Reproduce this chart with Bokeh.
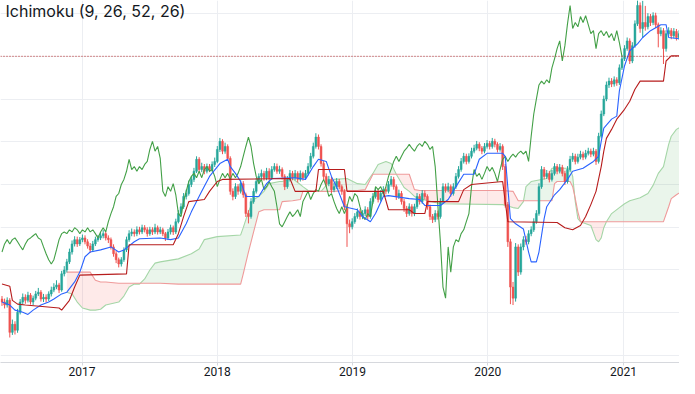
import numpy as np
from bokeh.plotting import figure
from bokeh.models import FixedTicker, Span, Label, Range1d, DatetimeTickFormatter, ColumnDataSource
from bokeh.embed import file_html
from bokeh.resources import INLINE

# ---------------- data (weekly bars, first bar = week of 2016-05-30) ----------------
first_week = "2016-05-30"

opens = [33.2, 32.5, 31.8, 32.9, 25.4, 27.3, 25.9, 30.1, 32.5, 33.6,
         32.9, 34.1, 32.5, 33.4, 34.4, 34.8, 33.2, 33.6, 33.2, 34.4,
         35.3, 36.0, 36.5, 35.3, 39.1, 40.0, 41.9, 44.2, 46.1, 47.1,
         46.1, 47.1, 47.5, 46.6, 45.6, 44.7, 46.1, 47.1, 47.5, 48.0,
         48.5, 47.5, 47.1, 45.4, 43.8, 42.4, 41.4, 42.4, 44.7, 47.1,
         48.5, 48.9, 48.5, 49.4, 48.9, 49.9, 49.4, 48.5, 49.4, 48.9,
         49.9, 48.9, 49.4, 48.5, 47.5, 48.9, 49.9, 48.9, 51.3, 53.2,
         54.8, 57.2, 57.9, 60.0, 61.2, 63.1, 65.9, 63.5, 64.2, 63.1,
         64.2, 63.5, 64.7, 65.4, 68.2, 70.1, 67.8, 68.9, 66.1, 58.4,
         57.2, 59.5, 58.4, 60.2, 57.6, 53.2, 52.5, 56.0, 58.4, 60.7,
         61.9, 62.6, 61.6, 63.1, 61.6, 63.5, 64.2, 63.1, 63.5, 61.9,
         59.5, 61.2, 62.6, 61.6, 62.6, 61.2, 62.6, 61.6, 62.6, 64.2,
         66.6, 68.9, 71.1, 68.9, 64.9, 61.9, 60.2, 61.2, 58.8, 59.5,
         60.7, 59.5, 58.4, 54.8, 50.8, 50.1, 51.3, 52.5, 53.6, 52.5,
         53.2, 54.1, 52.5, 56.0, 57.2, 58.4, 56.5, 57.9, 58.8, 58.4,
         60.0, 61.2, 59.5, 57.2, 57.9, 56.0, 54.4, 53.2, 54.8, 53.2,
         54.8, 57.2, 56.0, 57.9, 57.2, 54.8, 52.5, 51.8, 53.2, 52.5,
         56.0, 59.5, 58.8, 59.5, 57.9, 59.5, 61.9, 63.5, 65.4, 66.6,
         65.4, 66.6, 67.8, 68.5, 69.4, 68.5, 67.8, 68.9, 69.6, 68.9,
         70.1, 69.4, 68.2, 68.9, 64.2, 55.3, 46.6, 36.0, 33.4, 45.4,
         39.5, 45.4, 47.1, 46.6, 48.5, 49.4, 51.3, 53.2, 59.5, 63.5,
         61.9, 62.6, 61.2, 62.6, 64.2, 63.1, 64.0, 62.6, 60.7, 63.5,
         65.9, 66.6, 65.4, 66.4, 67.1, 66.4, 67.3, 67.8, 67.1, 67.8,
         65.4, 71.3, 76.5, 80.0, 83.3, 84.2, 83.5, 84.5, 83.8, 87.3,
         89.4, 91.8, 93.6, 88.9, 92.5, 97.6, 101.9, 96.5, 97.9, 96.9,
         99.3, 97.9, 99.5, 97.4, 95.3, 96.0, 91.8, 95.3, 96.0, 94.8,
         95.8, 94.4, 95.3, 93.6, 96.0, 93.2]
closes = [32.5, 31.8, 32.9, 25.4, 27.3, 25.9, 30.1, 32.5, 33.6, 32.9,
          34.1, 32.5, 33.4, 34.4, 34.8, 33.2, 33.6, 33.2, 34.4, 35.3,
          36.0, 36.5, 35.3, 39.1, 40.0, 41.9, 44.2, 46.1, 47.1, 46.1,
          47.1, 47.5, 46.6, 45.6, 44.7, 46.1, 47.1, 47.5, 48.0, 48.5,
          47.5, 47.1, 45.4, 43.8, 42.4, 41.4, 42.4, 44.7, 47.1, 48.5,
          48.9, 48.5, 49.4, 48.9, 49.9, 49.4, 48.5, 49.4, 48.9, 49.9,
          48.9, 49.4, 48.5, 47.5, 48.9, 49.9, 48.9, 51.3, 53.2, 54.8,
          57.2, 57.9, 60.0, 61.2, 63.1, 65.9, 63.5, 64.2, 63.1, 64.2,
          63.5, 64.7, 65.4, 68.2, 70.1, 67.8, 68.9, 66.1, 58.4, 57.2,
          59.5, 58.4, 60.2, 57.6, 53.2, 52.5, 56.0, 58.4, 60.7, 61.9,
          62.6, 61.6, 63.1, 61.6, 63.5, 64.2, 63.1, 63.5, 61.9, 59.5,
          61.2, 62.6, 61.6, 62.6, 61.2, 62.6, 61.6, 62.6, 64.2, 66.6,
          68.9, 71.1, 68.9, 64.9, 61.9, 60.2, 61.2, 58.8, 59.5, 60.7,
          59.5, 58.4, 54.8, 50.8, 50.1, 51.3, 52.5, 53.6, 52.5, 53.2,
          54.1, 52.5, 56.0, 57.2, 58.4, 56.5, 57.9, 58.8, 58.4, 60.0,
          61.2, 59.5, 57.2, 57.9, 56.0, 54.4, 53.2, 54.8, 53.2, 54.8,
          57.2, 56.0, 57.9, 57.2, 54.8, 52.5, 51.8, 53.2, 52.5, 56.0,
          59.5, 58.8, 59.5, 57.9, 59.5, 61.9, 63.5, 65.4, 66.6, 65.4,
          66.6, 67.8, 68.5, 69.4, 68.5, 67.8, 68.9, 69.6, 68.9, 70.1,
          69.4, 68.2, 68.9, 64.2, 55.3, 46.6, 36.0, 33.4, 45.4, 39.5,
          45.4, 47.1, 46.6, 48.5, 49.4, 51.3, 53.2, 59.5, 63.5, 61.9,
          62.6, 61.2, 62.6, 64.2, 63.1, 64.0, 62.6, 60.7, 63.5, 65.9,
          66.6, 65.4, 66.4, 67.1, 66.4, 67.3, 67.8, 67.1, 67.8, 65.4,
          71.3, 76.5, 80.0, 83.3, 84.2, 83.5, 84.5, 83.8, 87.3, 89.4,
          91.8, 93.6, 88.9, 92.5, 97.6, 101.9, 96.5, 97.9, 96.9, 99.3,
          97.9, 99.5, 97.4, 95.3, 96.0, 91.8, 95.3, 96.0, 94.8, 95.8,
          94.4, 95.3, 93.6, 96.0, 93.2, 90.0]
highs = [33.9, 33.3, 33.6, 33.4, 28.4, 28.0, 30.9, 33.2, 34.5, 34.3,
         34.9, 34.6, 34.0, 35.1, 35.8, 35.3, 34.4, 34.3, 35.0, 36.1,
         36.9, 37.6, 37.0, 39.8, 40.9, 42.6, 45.0, 46.9, 47.9, 47.8,
         47.7, 48.3, 48.1, 47.2, 46.3, 46.8, 47.8, 48.2, 48.9, 49.4,
         49.0, 48.1, 47.6, 46.0, 44.4, 42.9, 43.0, 45.3, 47.8, 49.3,
         49.7, 49.5, 50.2, 50.1, 50.6, 50.5, 50.0, 50.1, 50.0, 50.8,
         50.4, 50.1, 49.9, 48.9, 49.6, 50.6, 50.4, 52.0, 54.0, 55.6,
         58.0, 58.8, 60.9, 62.0, 63.9, 66.6, 66.4, 65.1, 64.8, 64.9,
         64.8, 65.4, 66.3, 69.0, 70.9, 70.6, 69.8, 69.4, 66.6, 59.1,
         60.3, 60.1, 61.0, 60.8, 58.1, 54.0, 56.8, 59.1, 61.5, 62.6,
         63.5, 63.2, 63.9, 63.8, 64.3, 65.0, 64.9, 64.4, 64.0, 62.4,
         62.0, 63.4, 63.2, 63.4, 63.1, 63.3, 63.0, 63.4, 65.0, 67.4,
         69.8, 72.0, 71.7, 69.4, 65.5, 62.6, 62.0, 61.8, 60.4, 61.5,
         61.3, 60.0, 58.9, 55.4, 51.8, 52.1, 53.3, 54.4, 54.2, 54.0,
         54.9, 54.7, 56.8, 58.0, 59.2, 58.9, 58.7, 59.6, 59.5, 60.8,
         62.0, 61.8, 60.0, 58.8, 58.5, 56.6, 55.0, 55.6, 55.4, 55.5,
         58.0, 57.8, 58.7, 58.6, 57.7, 55.3, 53.1, 54.0, 53.9, 56.8,
         60.3, 60.2, 60.4, 60.0, 60.3, 62.7, 64.3, 66.2, 67.4, 67.2,
         67.3, 68.6, 69.3, 70.2, 69.9, 69.0, 69.7, 70.4, 70.2, 70.9,
         70.7, 69.9, 69.7, 69.4, 64.8, 55.9, 47.3, 37.2, 46.3, 46.0,
         46.2, 47.9, 48.0, 49.3, 50.2, 52.1, 54.0, 60.3, 64.3, 64.1,
         63.4, 63.2, 63.4, 65.0, 64.8, 64.8, 64.6, 63.2, 64.3, 66.7,
         67.4, 67.2, 67.2, 67.9, 67.7, 68.1, 68.6, 68.4, 68.6, 68.3,
         72.1, 77.3, 80.8, 84.1, 85.0, 84.9, 85.3, 85.1, 88.1, 90.2,
         92.6, 94.4, 94.2, 93.3, 98.4, 103.1, 102.6, 103.0, 101.8, 100.1,
         99.9, 100.3, 100.2, 97.9, 96.8, 96.6, 96.1, 96.8, 96.6, 96.6,
         96.4, 96.1, 95.9, 96.8, 96.6, 93.8]
lows = [31.6, 31.0, 31.2, 24.2, 24.8, 24.9, 25.3, 29.6, 31.9, 32.1,
        32.4, 31.9, 31.8, 32.9, 33.9, 32.6, 32.5, 32.4, 32.7, 33.8,
        34.8, 35.5, 34.6, 34.9, 38.5, 39.4, 41.4, 43.6, 45.5, 45.4,
        45.6, 46.5, 46.0, 45.0, 44.0, 44.2, 45.6, 46.6, 47.0, 47.4,
        46.9, 46.3, 44.8, 43.1, 41.6, 40.6, 40.8, 41.9, 44.2, 46.6,
        47.9, 47.8, 47.9, 48.3, 48.4, 48.8, 47.8, 48.0, 48.2, 48.4,
        48.3, 48.4, 47.9, 46.8, 47.0, 48.3, 48.2, 48.4, 50.9, 52.6,
        54.3, 56.5, 57.4, 59.4, 60.6, 62.7, 62.8, 62.9, 62.4, 62.6,
        62.9, 63.0, 64.1, 65.0, 67.6, 67.1, 67.2, 65.5, 57.6, 56.3,
        56.6, 57.6, 57.9, 56.9, 52.4, 50.9, 52.0, 55.5, 57.9, 60.1,
        61.3, 60.9, 61.0, 60.9, 61.1, 63.0, 62.5, 62.5, 61.2, 58.7,
        59.0, 60.7, 61.0, 61.0, 60.5, 60.7, 60.9, 61.1, 62.1, 63.7,
        66.1, 68.4, 68.2, 64.2, 61.1, 59.5, 59.6, 58.0, 58.2, 59.0,
        58.9, 57.6, 54.0, 45.4, 48.6, 49.5, 50.8, 52.0, 51.8, 51.9,
        52.6, 51.8, 52.0, 55.5, 56.7, 55.8, 56.0, 57.3, 57.7, 57.9,
        59.5, 58.8, 56.4, 56.6, 55.3, 53.6, 52.4, 52.7, 52.5, 52.6,
        54.3, 55.3, 55.5, 56.5, 54.1, 51.7, 51.0, 51.2, 51.8, 52.0,
        55.5, 58.1, 58.2, 57.1, 57.4, 59.0, 61.4, 63.0, 64.9, 64.7,
        64.9, 66.1, 67.3, 68.0, 67.8, 67.1, 67.3, 68.4, 68.2, 68.4,
        68.7, 67.5, 67.7, 63.4, 54.6, 45.4, 32.0, 31.8, 32.6, 38.6,
        38.9, 44.6, 45.9, 46.0, 47.9, 48.9, 50.8, 52.7, 59.0, 61.2,
        61.3, 60.5, 60.7, 62.1, 62.4, 62.6, 61.9, 59.9, 60.2, 63.0,
        65.3, 64.7, 64.9, 65.9, 65.7, 65.9, 66.8, 66.4, 66.6, 64.6,
        64.9, 70.8, 76.0, 79.5, 82.6, 82.8, 82.9, 83.1, 83.3, 86.8,
        88.9, 91.3, 88.2, 88.4, 92.0, 97.1, 95.5, 94.3, 96.0, 96.3,
        97.1, 97.3, 96.6, 92.1, 94.7, 88.2, 91.1, 94.8, 94.0, 94.2,
        93.7, 93.9, 92.9, 93.2, 92.5, 87.3]

# Conversion line (Tenkan-sen): week index -> value
tenkan_wk = [0, 3, 5, 8, 10, 12, 15, 18, 20, 23, 25, 28, 30, 32, 34, 38, 42, 45, 47, 51,
             53, 61, 65, 68, 71, 73, 77, 80, 84, 87, 88, 90, 92, 94, 99, 102, 104, 113, 117, 120,
             122, 125, 127, 129, 132, 137, 139, 142, 144, 147, 149, 157, 161, 163, 169, 172, 175, 178, 182, 184,
             187, 193, 194, 196, 198, 201, 203, 204, 206, 207, 209, 210, 213, 215, 218, 220, 224, 228, 230, 231,
             232, 235, 237, 238, 240, 242, 245, 247, 250, 254, 256, 257, 261, 265]
tenkan = [32.5, 31.8, 30.6, 30.1, 29.6, 30.6, 31.8, 32.5, 33.2, 34.4, 34.8, 37.2, 39.5, 43.1, 44.2, 44.7, 45.4, 44.2, 44.7, 46.6,
          47.3, 47.5, 47.1, 47.5, 50.8, 53.6, 58.4, 61.9, 64.9, 65.9, 64.2, 62.6, 60.7, 57.2, 57.2, 60.2, 61.4, 61.6, 61.2, 64.2,
          65.9, 65.4, 61.9, 59.5, 54.8, 54.1, 52.5, 51.3, 53.2, 57.2, 57.4, 56.7, 56.5, 55.1, 55.1, 56.5, 59.5, 62.4, 62.4, 65.9,
          67.3, 67.3, 66.6, 52.0, 50.8, 49.6, 44.2, 41.9, 41.9, 44.2, 52.0, 54.8, 57.6, 58.8, 61.2, 63.1, 63.8, 65.4, 66.6, 70.1,
          73.2, 75.3, 76.0, 81.9, 87.8, 91.3, 92.9, 94.4, 96.0, 97.4, 97.4, 94.4, 94.1, 92.9]

# Base line (Kijun-sen)
kijun_wk = [0, 3, 4, 6, 9, 22, 23, 26, 28, 30, 48, 49, 66, 68, 70, 72, 78, 80, 83, 85,
            111, 113, 121, 122, 132, 133, 147, 149, 157, 159, 163, 164, 176, 178, 181, 193, 195, 214, 217, 220,
            223, 225, 227, 229, 231, 232, 233, 235, 237, 240, 242, 244, 246, 255, 256, 258, 265]
kijun = [36.7, 36.2, 32.9, 32.0, 31.8, 31.1, 30.6, 32.9, 36.0, 38.8, 39.1, 45.9, 45.9, 48.5, 52.5, 56.0, 56.5, 58.4, 60.7, 61.2,
         61.4, 58.4, 58.4, 63.5, 63.5, 58.4, 58.4, 54.1, 54.1, 53.2, 53.2, 56.0, 56.0, 58.8, 60.0, 60.7, 51.3, 51.1, 49.9, 49.4,
         50.4, 52.5, 55.3, 58.4, 64.2, 67.8, 70.8, 72.9, 75.3, 77.6, 79.5, 82.3, 84.2, 84.2, 88.9, 90.1, 90.1]

# Cloud (Senkou span A / B, already displaced forward)
cloud_wk = [25, 27, 29, 31, 34, 36, 38, 40, 45, 47, 49, 51, 53, 55, 57, 59, 61, 68, 73, 76,
            78, 83, 92, 93, 95, 97, 99, 101, 103, 107, 108, 112, 115, 116, 118, 120, 123, 125, 128, 133,
            137, 140, 143, 145, 148, 150, 152, 155, 157, 159, 161, 169, 193, 197, 199, 201, 202, 204, 210, 212,
            213, 214, 219, 220, 221, 222, 223, 227, 229, 230, 231, 232, 233, 235, 238, 240, 242, 246, 249, 251,
            253, 255, 257, 258, 260, 262, 263, 264, 266, 268]
span_a = [34.8, 34.4, 32.5, 31.1, 30.6, 30.6, 30.8, 31.8, 32.5, 33.9, 36.0, 36.7, 36.7, 37.9, 40.0, 41.6, 41.9, 42.6, 43.8, 44.9,
          47.1, 47.8, 48.2, 49.9, 53.6, 56.5, 57.2, 58.4, 60.2, 60.7, 60.7, 61.4, 60.0, 59.5, 58.6, 58.4, 58.4, 59.8, 61.2, 61.4,
          60.2, 60.0, 62.6, 64.7, 65.4, 64.9, 62.4, 59.3, 58.4, 57.2, 56.7, 55.5, 55.3, 54.6, 54.4, 56.0, 59.5, 60.7, 61.4, 63.8,
          63.8, 63.8, 63.8, 61.9, 56.0, 52.0, 51.3, 50.4, 47.1, 46.6, 47.5, 49.9, 51.3, 53.2, 54.6, 55.5, 56.2, 56.9, 57.9, 59.8,
          62.6, 64.2, 69.4, 71.3, 72.9, 73.6, 76.0, 79.5, 82.4, 83.5]
span_b = [39.5, 39.5, 39.5, 39.5, 39.5, 37.6, 37.2, 37.2, 36.9, 36.9, 36.9, 36.9, 36.9, 36.9, 36.9, 36.9, 36.9, 36.7, 36.7, 36.7,
          36.7, 36.7, 36.7, 39.1, 44.2, 48.9, 53.6, 54.1, 54.1, 54.1, 56.0, 56.2, 56.5, 58.4, 58.4, 58.4, 58.4, 58.4, 58.4, 58.6,
          58.6, 58.8, 62.4, 62.4, 62.4, 62.4, 62.4, 62.4, 62.4, 58.8, 58.6, 58.6, 58.6, 58.4, 56.2, 56.2, 56.2, 56.2, 56.2, 56.2,
          60.2, 60.7, 60.7, 59.5, 56.7, 53.6, 51.3, 51.3, 51.3, 51.3, 51.3, 51.3, 51.3, 51.3, 51.3, 51.3, 51.3, 51.3, 51.3, 51.3,
          51.3, 51.3, 54.8, 56.7, 57.6, 58.4, 59.5, 61.9, 63.1, 63.5]

lag_weeks = 26
year_ticks = ["2017-01-01", "2018-01-01", "2019-01-01", "2020-01-01", "2021-01-01"]
grid_levels = [20, 30, 40, 50, 60, 70, 80, 90, 100]
title_text = "Ichimoku (9, 26, 52, 26)"

# ---------------- helpers ----------------
WEEK_MS = 7 * 24 * 3600 * 1000
base_ms = float(np.datetime64(first_week, "ms").astype(np.int64))


def wk(j):
    return base_ms + np.asarray(j, dtype=float) * WEEK_MS


o = np.array(opens); c = np.array(closes); h = np.array(highs); lo = np.array(lows)
n = len(c)
bar_x = wk(np.arange(n))
up = c >= o
colors = np.where(up, "#26a69a", "#ef5350")

candles = ColumnDataSource(dict(x=bar_x, top=np.maximum(o, c), bottom=np.minimum(o, c),
                                high=h, low=lo, color=colors))

tick_ms = [float(np.datetime64(t, "ms").astype(np.int64)) for t in year_ticks]

x_start = float(wk(-0.578))
x_end = float(wk(261.18))
y_lo, y_hi = 18.35, 103.06

p = figure(width=679, height=378, x_axis_type="datetime", y_axis_location=None,
           output_backend="svg", toolbar_location=None,
           x_range=Range1d(x_start, x_end),
           y_range=Range1d(y_lo, y_hi),
           min_border=0, min_border_left=0, min_border_right=0,
           min_border_top=0, min_border_bottom=0)
p.outline_line_color = None
p.background_fill_color = "white"

# grid
p.xaxis.ticker = FixedTicker(ticks=tick_ms)
p.xgrid.ticker = FixedTicker(ticks=tick_ms)
p.ygrid.ticker = FixedTicker(ticks=grid_levels)
p.xgrid.grid_line_color = "#eceef2"
p.ygrid.grid_line_color = "#eceef2"

p.xaxis.formatter = DatetimeTickFormatter(years="%Y", months="%Y", days="%Y")
p.xaxis.axis_line_color = "#d6d8dd"
p.xaxis.major_tick_line_color = "#d6d8dd"
p.xaxis.major_tick_in = 0
p.xaxis.major_tick_out = 3
p.xaxis.minor_tick_line_color = None
p.xaxis.major_label_standoff = 1
p.xaxis.major_label_text_font = "Roboto"
p.xaxis.major_label_text_font_size = "12px"
p.xaxis.major_label_text_color = "#131722"

# cloud
cx = wk(cloud_wk)
a = np.array(span_a); b = np.array(span_b)
top = np.maximum(a, b)
p.varea(x=cx, y1=b, y2=top, fill_color="#43a047", fill_alpha=0.11)
p.varea(x=cx, y1=a, y2=top, fill_color="#f44336", fill_alpha=0.11)
p.line(cx, a, line_color="#a5d6a7", line_width=1.1)
p.line(cx, b, line_color="#ef9a9a", line_width=1.1)

# candles
p.segment(x0="x", y0="high", x1="x", y1="low", line_color="color", line_width=1, source=candles)
p.vbar(x="x", width=0.72 * WEEK_MS, top="top", bottom="bottom",
       fill_color="color", line_color="color", line_width=0.5, source=candles)

# lagging span: closes drawn 26 weeks back
p.line(wk(np.arange(n - lag_weeks)), c[lag_weeks:], line_color="#43a047", line_width=1.1)
# conversion / base lines
p.line(wk(tenkan_wk), tenkan, line_color="#2962ff", line_width=1.1)
p.line(wk(kijun_wk), kijun, line_color="#b71c1c", line_width=1.1)

# last price line
p.add_layout(Span(location=closes[-1], dimension="width", line_color="#b32020",
                  line_dash="1 2", line_width=1))

p.add_layout(Label(x=x_start, y=y_hi, text=title_text, text_font="Inter",
                   text_font_size="16px", text_color="#131722", text_baseline="top",
                   x_offset=5, y_offset=0))

open("out.html", "w").write(file_html(p, INLINE))
